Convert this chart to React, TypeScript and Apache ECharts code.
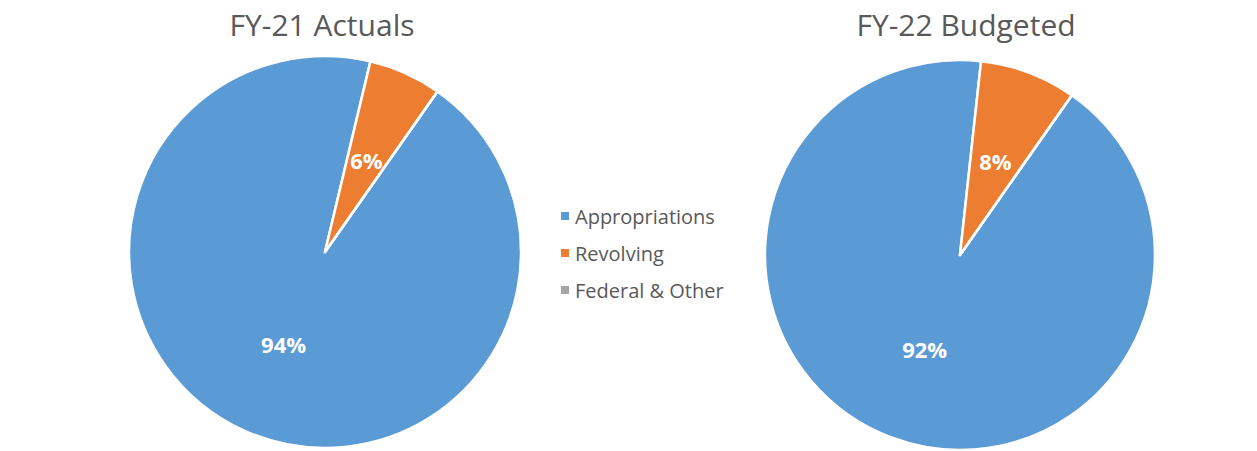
import React, { useEffect, useRef } from "react";
import * as echarts from "echarts";

const categories = ["Appropriations", "Revolving", "Federal & Other"];
const fy21Values = [94, 6, 0];
const fy22Values = [92, 8, 0];
const titles = ["FY-21 Actuals", "FY-22 Budgeted"];
const colors = ["#5B9BD5", "#ED7D31", "#A5A5A5"];

const FONT = "'Open Sans', 'Noto Sans', sans-serif";

export default function App() {
  const ref = useRef<HTMLDivElement>(null);
  useEffect(() => {
    if (!ref.current) return;
    const chart = echarts.init(ref.current, null, { renderer: "svg" });
    const mkData = (vals: number[]) =>
      categories.map((c, i) => ({ name: c, value: vals[i] }));
    const label = {
      show: true,
      position: "inside",
      color: "#fff",
      fontFamily: FONT,
      fontWeight: "bold",
      fontSize: 22,
      formatter: (p: any) => (p.value > 0 ? p.value + "%" : ""),
    };
    const titleStyle = { fontFamily: FONT, fontSize: 30, fontWeight: "normal", color: "#595959" };
    chart.setOption({
      animation: false,
      color: colors,
      title: [
        { text: titles[0], left: 317, top: 4, textAlign: "center", textStyle: titleStyle },
        { text: titles[1], left: 961, top: 4, textAlign: "center", textStyle: titleStyle },
      ],
      legend: {
        orient: "vertical",
        left: 554,
        top: 201,
        icon: "rect",
        itemWidth: 10,
        itemHeight: 10,
        itemGap: 17,
        data: categories,
        textStyle: { fontFamily: FONT, fontSize: 20, color: "#595959" },
      },
      series: [
        {
          type: "pie",
          center: [325, 252],
          radius: 196,
          startAngle: 55,
          clockwise: true,
          data: mkData(fy21Values),
          label,
          labelLine: { show: false },
          itemStyle: { borderColor: "#fff", borderWidth: 2.5 },
          emphasis: { disabled: true },
        },
        {
          type: "pie",
          center: [960, 255],
          radius: 195,
          startAngle: 55,
          clockwise: true,
          data: mkData(fy22Values),
          label,
          labelLine: { show: false },
          itemStyle: { borderColor: "#fff", borderWidth: 2.5 },
          emphasis: { disabled: true },
        },
      ],
    });
    return () => chart.dispose();
  }, []);
  return (
    <div
      ref={ref}
      style={{ position: "fixed", left: 0, top: 0, width: 1257, height: 451, background: "#fff" }}
    />
  );
}
